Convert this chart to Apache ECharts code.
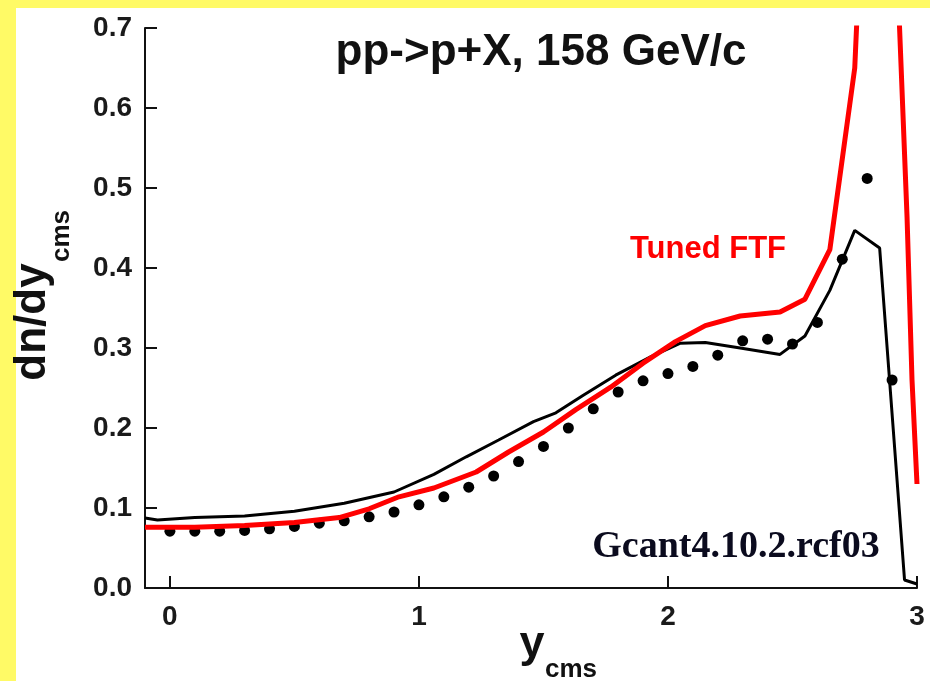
<!DOCTYPE html>
<html>
<head>
<meta charset="utf-8">
<script src="https://cdn.jsdelivr.net/npm/echarts@6/dist/echarts.min.js"></script>
<style>
  body { margin: 0; background: #fffa66; }
  #panel { position: absolute; left: 16px; top: 8px; width: 914px; height: 673px; background: #fff; }
  #chart { position: absolute; left: 0; top: 0; width: 930px; height: 681px; }
</style>
</head>
<body>
<div id="panel"></div>
<div id="chart"></div>
<script>
// measured points (y_cms)
const dataX = [0, 0.1, 0.2, 0.3, 0.4, 0.5, 0.6, 0.7, 0.8, 0.9, 1.0, 1.1, 1.2, 1.3, 1.4, 1.5,
  1.6, 1.7, 1.8, 1.9, 2.0, 2.1, 2.2, 2.3, 2.4, 2.5, 2.6, 2.7, 2.8, 2.9];
const dataY = [0.071, 0.071, 0.071, 0.072, 0.074, 0.077, 0.081, 0.084, 0.089, 0.095, 0.104, 0.114,
  0.126, 0.140, 0.158, 0.177, 0.200, 0.224, 0.245, 0.259, 0.268, 0.277, 0.291, 0.309, 0.311,
  0.305, 0.332, 0.411, 0.512, 0.260];

// Geant4 10.2.ref03 (black line)
const g4X = [-0.1, -0.05, 0.1, 0.3, 0.5, 0.7, 0.9, 1.06, 1.19, 1.32, 1.46, 1.55, 1.66, 1.79, 1.93,
  2.05, 2.15, 2.29, 2.45, 2.55, 2.65, 2.75, 2.85, 2.95, 3.0];
const g4Y = [0.0875, 0.085, 0.088, 0.090, 0.096, 0.106, 0.120, 0.142, 0.164, 0.185, 0.208, 0.219,
  0.241, 0.266, 0.289, 0.306, 0.307, 0.300, 0.292, 0.315, 0.372, 0.447, 0.425, 0.010, 0.005];

// Tuned FTF (red line)
const ftfX = [-0.1, 0.1, 0.3, 0.5, 0.68, 0.8, 0.92, 1.06, 1.23, 1.36, 1.50, 1.63, 1.77, 1.90, 2.03,
  2.15, 2.29, 2.45, 2.55, 2.65, 2.75, 2.85, 2.93, 2.96, 2.98, 3.0];
const ftfY = [0.076, 0.076, 0.078, 0.082, 0.088, 0.099, 0.114, 0.125, 0.145, 0.170, 0.195, 0.223,
  0.251, 0.281, 0.308, 0.328, 0.340, 0.345, 0.361, 0.423, 0.65, 1.35, 0.70, 0.464, 0.26, 0.13];

const xTicks = [0, 1, 2, 3];

const zip = (xs, ys) => xs.map((x, i) => [x, ys[i]]);

const chart = echarts.init(document.getElementById('chart'));

const labelFont = { fontFamily: 'Liberation Sans, Arial, sans-serif', fontWeight: 'bold', color: '#1a1a1a' };

const option = {
  animation: false,
  grid: { left: 145, right: 13, top: 28, bottom: 93, containLabel: false, outerBoundsMode: 'none' },
  xAxis: {
    type: 'value',
    min: -0.1,
    max: 3.0,
    axisLine: { onZero: false, lineStyle: { color: '#111', width: 2 } },
    axisTick: { inside: true, length: 12, customValues: xTicks, lineStyle: { color: '#111', width: 2 } },
    axisLabel: Object.assign({ fontSize: 28, margin: 15, customValues: xTicks }, labelFont),
    splitLine: { show: false }
  },
  yAxis: {
    type: 'value',
    min: 0,
    max: 0.7,
    interval: 0.1,
    axisLine: { show: true, onZero: false, lineStyle: { color: '#111', width: 2 } },
    axisTick: { show: true, inside: true, length: 12, lineStyle: { color: '#111', width: 2 } },
    axisLabel: Object.assign({ fontSize: 28, margin: 13, formatter: v => v.toFixed(1) }, labelFont),
    splitLine: { show: false }
  },
  graphic: [
    { type: 'text', x: 541, y: 53, style: { text: 'pp->p+X, 158 GeV/c', fontSize: 44, fontWeight: 'bold',
      fontFamily: 'Liberation Sans, Arial, sans-serif', fill: '#111', align: 'center', verticalAlign: 'middle' } },
    { type: 'text', x: 708, y: 249, style: { text: 'Tuned FTF', fontSize: 31, fontWeight: 'bold',
      fontFamily: 'Liberation Sans, Arial, sans-serif', fill: '#ff0000', align: 'center', verticalAlign: 'middle' } },
    { type: 'text', x: 736, y: 547, style: { text: 'Gcant4.10.2.rcf03', fontSize: 38, fontWeight: 'bold',
      fontFamily: 'Liberation Serif, Times New Roman, serif', fill: '#0b0b1e', align: 'center', verticalAlign: 'middle' } },
    // y axis name
    { type: 'text', x: 33, y: 322, rotation: Math.PI / 2, style: { text: 'dn/dy', fontSize: 44, fontWeight: 'bold',
      fontFamily: 'Liberation Sans, Arial, sans-serif', fill: '#111', align: 'center', verticalAlign: 'middle' } },
    { type: 'text', x: 62, y: 236, rotation: Math.PI / 2, style: { text: 'cms', fontSize: 26, fontWeight: 'bold',
      fontFamily: 'Liberation Sans, Arial, sans-serif', fill: '#111', align: 'center', verticalAlign: 'middle' } },
    // x axis name
    { type: 'text', x: 532, y: 645, style: { text: 'y', fontSize: 45, fontWeight: 'bold',
      fontFamily: 'Liberation Sans, Arial, sans-serif', fill: '#111', align: 'center', verticalAlign: 'middle' } },
    { type: 'text', x: 571, y: 670, style: { text: 'cms', fontSize: 26, fontWeight: 'bold',
      fontFamily: 'Liberation Sans, Arial, sans-serif', fill: '#111', align: 'center', verticalAlign: 'middle' } }
  ],
  series: [
    {
      name: 'data',
      type: 'scatter',
      data: zip(dataX, dataY),
      symbolSize: 11,
      itemStyle: { color: '#000', opacity: 1 },
      z: 2
    },
    {
      name: 'Geant4',
      type: 'line',
      data: zip(g4X, g4Y),
      showSymbol: false,
      lineStyle: { color: '#000', width: 3 },
      z: 3
    },
    {
      name: 'Tuned FTF',
      type: 'line',
      data: zip(ftfX, ftfY),
      showSymbol: false,
      lineStyle: { color: '#ff0000', width: 5 },
      z: 4
    }
  ]
};

chart.setOption(option);
</script>
</body>
</html>
